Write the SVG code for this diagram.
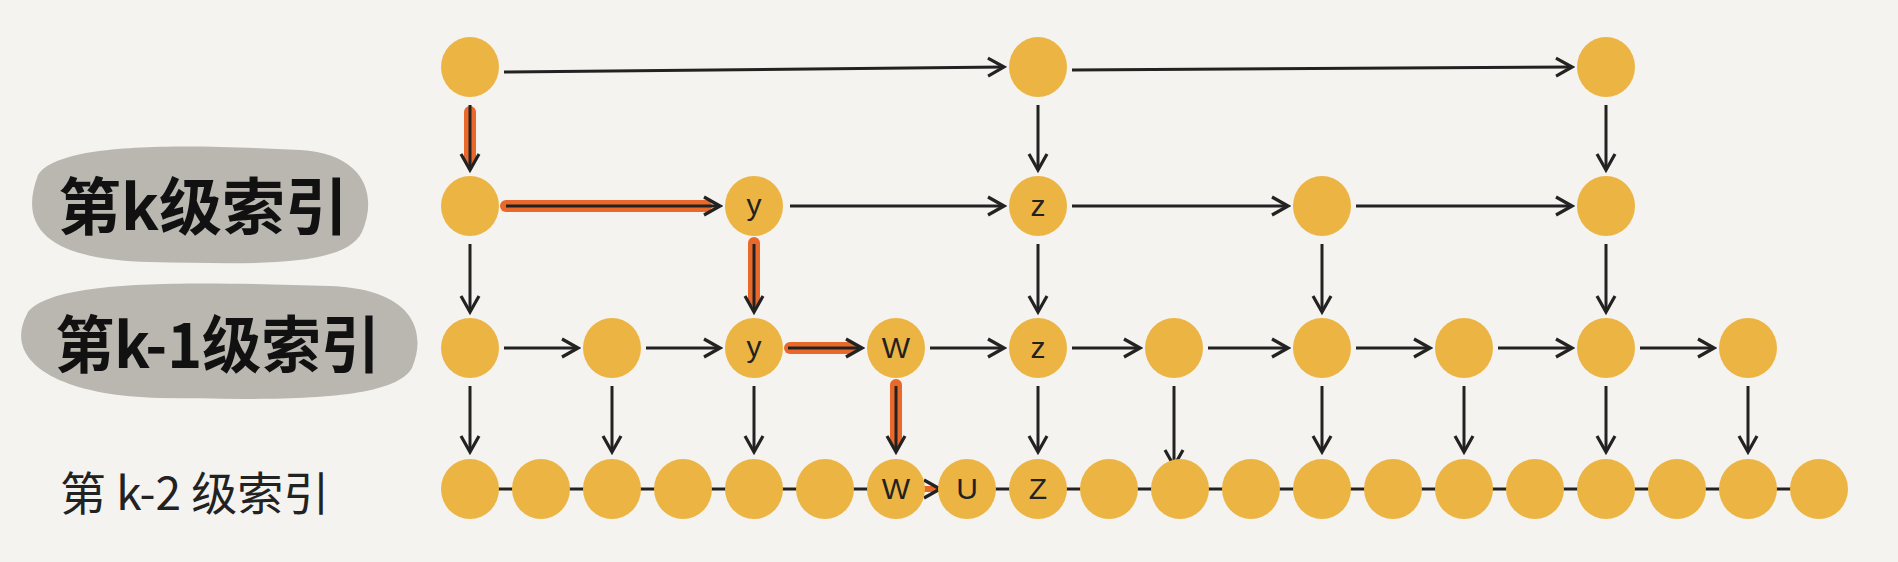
<svg xmlns="http://www.w3.org/2000/svg" width="1898" height="562" viewBox="0 0 1898 562">
<style>
.n{fill:#ecb443}
.c{stroke:#222;stroke-width:3;fill:none;marker-end:url(#a)}
.d{stroke:#222;stroke-width:3;fill:none}
.o{stroke:#e8692a;stroke-width:12;fill:none;stroke-linecap:round}
.t{font-family:"Liberation Sans",Arial,sans-serif;font-size:30px;fill:#222;text-anchor:middle}
.h{font-family:"Noto Sans CJK SC",sans-serif;font-weight:bold;font-size:62px;fill:#111}
.l{font-family:"Noto Sans CJK SC","Liberation Sans",sans-serif;font-size:46px;fill:#222}
</style>
<defs>
<marker id="a" markerWidth="22" markerHeight="22" refX="19" refY="11" orient="auto" markerUnits="userSpaceOnUse">
<path d="M3,2 L19,11 L3,20" fill="none" stroke="#222" stroke-width="3.2"/>
</marker>
</defs>
<rect width="1898" height="562" fill="#f4f3ef"/>
<g id="label-k">
<path d="M38,175 C60,140 200,145 300,150 C365,154 378,195 362,232 C345,268 250,264 150,262 C60,260 15,235 38,175 Z" fill="#b9b7af"/>
<text class="h" x="58" y="230" textLength="290" lengthAdjust="spacingAndGlyphs">第k级索引</text>
</g>
<g id="label-k1">
<path d="M28,312 C55,278 200,282 330,286 C412,289 428,330 412,368 C392,402 280,400 160,398 C60,396 0,362 28,312 Z" fill="#b9b7af"/>
<text class="h" x="55" y="368" textLength="325" lengthAdjust="spacingAndGlyphs">第k-1级索引</text>
</g>
<g id="label-k2"><text class="l" x="60" y="510">第 k-2 级索引</text></g>
<g id="connectors">
<line class="d" x1="470" y1="489" x2="1819" y2="489"/>
<path class="o" d="M470,112 L470,160"/>
<path class="o" d="M506,206 L706,206"/>
<path class="o" d="M754,243 L754,300"/>
<path class="o" d="M790,348 L852,348"/>
<path class="o" d="M896,385 L896,442"/>
<line x1="922" y1="489" x2="940" y2="489" stroke="#e8692a" stroke-width="6" marker-end="url(#a)"/>
<line class="c" x1="504" y1="72" x2="1004" y2="67"/>
<line class="c" x1="1072" y1="70" x2="1572" y2="67"/>
<line class="c" x1="506" y1="206" x2="720" y2="206"/>
<line class="c" x1="790" y1="206" x2="1004" y2="206"/>
<line class="c" x1="1072" y1="206" x2="1288" y2="206"/>
<line class="c" x1="1356" y1="206" x2="1572" y2="206"/>
<line class="c" x1="504" y1="348" x2="578" y2="348"/>
<line class="c" x1="646" y1="348" x2="720" y2="348"/>
<line class="c" x1="788" y1="348" x2="862" y2="348"/>
<line class="c" x1="930" y1="348" x2="1004" y2="348"/>
<line class="c" x1="1072" y1="348" x2="1140" y2="348"/>
<line class="c" x1="1208" y1="348" x2="1288" y2="348"/>
<line class="c" x1="1356" y1="348" x2="1430" y2="348"/>
<line class="c" x1="1498" y1="348" x2="1572" y2="348"/>
<line class="c" x1="1640" y1="348" x2="1714" y2="348"/>
<line class="c" x1="470" y1="105" x2="470" y2="170"/>
<line class="c" x1="1038" y1="105" x2="1038" y2="170"/>
<line class="c" x1="1606" y1="105" x2="1606" y2="170"/>
<line class="c" x1="470" y1="244" x2="470" y2="312"/>
<line class="c" x1="754" y1="244" x2="754" y2="312"/>
<line class="c" x1="1038" y1="244" x2="1038" y2="312"/>
<line class="c" x1="1322" y1="244" x2="1322" y2="312"/>
<line class="c" x1="1606" y1="244" x2="1606" y2="312"/>
<line class="c" x1="470" y1="386" x2="470" y2="452"/>
<line class="c" x1="612" y1="386" x2="612" y2="452"/>
<line class="c" x1="754" y1="386" x2="754" y2="452"/>
<line class="c" x1="896" y1="386" x2="896" y2="452"/>
<line class="c" x1="1038" y1="386" x2="1038" y2="452"/>
<line class="c" x1="1174" y1="386" x2="1174" y2="466"/>
<line class="c" x1="1322" y1="386" x2="1322" y2="452"/>
<line class="c" x1="1464" y1="386" x2="1464" y2="452"/>
<line class="c" x1="1606" y1="386" x2="1606" y2="452"/>
<line class="c" x1="1748" y1="386" x2="1748" y2="452"/>
</g>
<g id="top-0"><ellipse class="n" cx="470" cy="67" rx="29" ry="30"/></g>
<g id="top-8"><ellipse class="n" cx="1038" cy="67" rx="29" ry="30"/></g>
<g id="top-16"><ellipse class="n" cx="1606" cy="67" rx="29" ry="30"/></g>
<g id="k-0"><ellipse class="n" cx="470" cy="206" rx="29" ry="30"/></g>
<g id="k-4"><ellipse class="n" cx="754" cy="206" rx="29" ry="30"/><text class="t" x="754" y="215">y</text></g>
<g id="k-8"><ellipse class="n" cx="1038" cy="206" rx="29" ry="30"/><text class="t" x="1038" y="216">z</text></g>
<g id="k-12"><ellipse class="n" cx="1322" cy="206" rx="29" ry="30"/></g>
<g id="k-16"><ellipse class="n" cx="1606" cy="206" rx="29" ry="30"/></g>
<g id="k1-0"><ellipse class="n" cx="470" cy="348" rx="29" ry="30"/></g>
<g id="k1-2"><ellipse class="n" cx="612" cy="348" rx="29" ry="30"/></g>
<g id="k1-4"><ellipse class="n" cx="754" cy="348" rx="29" ry="30"/><text class="t" x="754" y="357">y</text></g>
<g id="k1-6"><ellipse class="n" cx="896" cy="348" rx="29" ry="30"/><text class="t" x="896" y="358">W</text></g>
<g id="k1-8"><ellipse class="n" cx="1038" cy="348" rx="29" ry="30"/><text class="t" x="1038" y="358">z</text></g>
<g id="k1-10"><ellipse class="n" cx="1174" cy="348" rx="29" ry="30"/></g>
<g id="k1-12"><ellipse class="n" cx="1322" cy="348" rx="29" ry="30"/></g>
<g id="k1-14"><ellipse class="n" cx="1464" cy="348" rx="29" ry="30"/></g>
<g id="k1-16"><ellipse class="n" cx="1606" cy="348" rx="29" ry="30"/></g>
<g id="k1-18"><ellipse class="n" cx="1748" cy="348" rx="29" ry="30"/></g>
<g id="b-0"><ellipse class="n" cx="470" cy="489" rx="29" ry="30"/></g>
<g id="b-1"><ellipse class="n" cx="541" cy="489" rx="29" ry="30"/></g>
<g id="b-2"><ellipse class="n" cx="612" cy="489" rx="29" ry="30"/></g>
<g id="b-3"><ellipse class="n" cx="683" cy="489" rx="29" ry="30"/></g>
<g id="b-4"><ellipse class="n" cx="754" cy="489" rx="29" ry="30"/></g>
<g id="b-5"><ellipse class="n" cx="825" cy="489" rx="29" ry="30"/></g>
<g id="b-6"><ellipse class="n" cx="896" cy="489" rx="29" ry="30"/><text class="t" x="896" y="499">W</text></g>
<g id="b-7"><ellipse class="n" cx="967" cy="489" rx="29" ry="30"/><text class="t" x="967" y="499">U</text></g>
<g id="b-8"><ellipse class="n" cx="1038" cy="489" rx="29" ry="30"/><text class="t" x="1038" y="499">Z</text></g>
<g id="b-9"><ellipse class="n" cx="1109" cy="489" rx="29" ry="30"/></g>
<g id="b-10"><ellipse class="n" cx="1180" cy="489" rx="29" ry="30"/></g>
<g id="b-11"><ellipse class="n" cx="1251" cy="489" rx="29" ry="30"/></g>
<g id="b-12"><ellipse class="n" cx="1322" cy="489" rx="29" ry="30"/></g>
<g id="b-13"><ellipse class="n" cx="1393" cy="489" rx="29" ry="30"/></g>
<g id="b-14"><ellipse class="n" cx="1464" cy="489" rx="29" ry="30"/></g>
<g id="b-15"><ellipse class="n" cx="1535" cy="489" rx="29" ry="30"/></g>
<g id="b-16"><ellipse class="n" cx="1606" cy="489" rx="29" ry="30"/></g>
<g id="b-17"><ellipse class="n" cx="1677" cy="489" rx="29" ry="30"/></g>
<g id="b-18"><ellipse class="n" cx="1748" cy="489" rx="29" ry="30"/></g>
<g id="b-19"><ellipse class="n" cx="1819" cy="489" rx="29" ry="30"/></g>
</svg>
